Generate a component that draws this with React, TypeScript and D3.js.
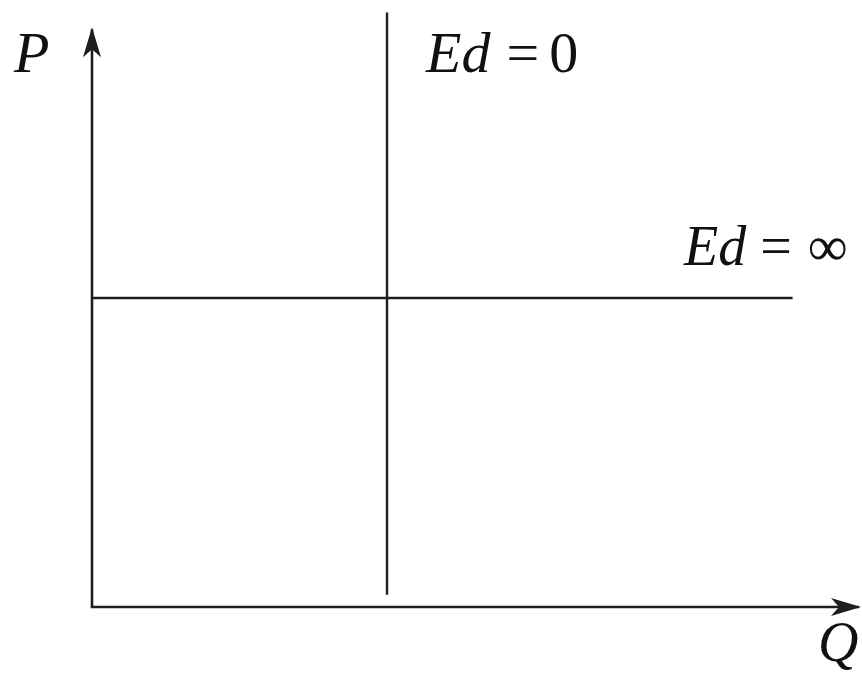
import { useRef, useEffect } from "react";
import * as d3 from "d3";

// axes extents (arbitrary Q / P units)
const qAxis = [0, 10.4];
const pAxis = [0, 9.35];
// perfectly inelastic demand: vertical at Q = 4
const inelasticQ = [4, 4];
const inelasticP = [0.2, 9.62];
// perfectly elastic demand: horizontal at P = 5
const elasticQ = [0, 9.5];
const elasticP = [5, 5];
const axisLabels = ["P", "Q"];

const App = () => {
  const svgRef = useRef<SVGSVGElement>(null);

  useEffect(() => {
    const width = 862;
    const height = 675;
    const svg = d3
      .select(svgRef.current)
      .attr("width", width)
      .attr("height", height)
      .style("background", "#fff")
      .style("position", "absolute")
      .style("left", "0px")
      .style("top", "0px");
    svg.selectAll("*").remove();

    // scaling
    const x = d3.scaleLinear().domain([0, 10]).range([92, 829.5]);
    const y = d3.scaleLinear().domain([0, 5]).range([607, 298]);
    const line = d3
      .line<[number, number]>()
      .x((d) => x(d[0]))
      .y((d) => y(d[1]));
    const ink = "#1e1e1e";

    // axes
    svg
      .append("path")
      .attr("d", line([[0, pAxis[1]], [0, 0], [qAxis[1], 0]]))
      .attr("fill", "none")
      .attr("stroke", ink)
      .attr("stroke-width", 2.6);

    // arrow heads
    const yTipX = x(0);
    const yTipY = y(pAxis[1]) - 2;
    svg
      .append("path")
      .attr(
        "d",
        `M${yTipX},${yTipY} L${yTipX + 9},${yTipY + 30} L${yTipX},${yTipY + 22} L${yTipX - 9},${yTipY + 30} Z`
      )
      .attr("fill", ink);
    const xTipX = x(qAxis[1]) + 2;
    const xTipY = y(0);
    svg
      .append("path")
      .attr(
        "d",
        `M${xTipX},${xTipY} L${xTipX - 30},${xTipY - 9} L${xTipX - 22},${xTipY} L${xTipX - 30},${xTipY + 9} Z`
      )
      .attr("fill", ink);

    // demand curves
    svg
      .append("path")
      .attr("d", line(d3.zip(inelasticQ, inelasticP) as [number, number][]))
      .attr("fill", "none")
      .attr("stroke", ink)
      .attr("stroke-width", 2.4);
    svg
      .append("path")
      .attr("d", line(d3.zip(elasticQ, elasticP) as [number, number][]))
      .attr("fill", "none")
      .attr("stroke", ink)
      .attr("stroke-width", 2.4);

    // labels
    const serif = "Liberation Serif, Times New Roman, Tinos, DejaVu Serif, serif";
    const label = (tx: number, ty: number, size: number) =>
      svg
        .append("text")
        .attr("x", tx)
        .attr("y", ty)
        .attr("font-family", serif)
        .attr("font-size", size)
        .attr("fill", "#111");

    label(14, 72, 58).attr("font-style", "italic").text(axisLabels[0]);
    label(818, 661, 56).attr("font-style", "italic").text(axisLabels[1]);

    const ed0 = label(426, 72, 58);
    ed0.append("tspan").attr("font-style", "italic").text("Ed");
    ed0.append("tspan").attr("dx", 16).text("=");
    ed0.append("tspan").attr("dx", 10).text("0");

    const edInf = label(684, 265, 56);
    edInf.append("tspan").attr("font-style", "italic").text("Ed");
    edInf.append("tspan").attr("dx", 14).text("=");
    edInf.append("tspan").attr("dx", 16).text("∞");
  }, []);

  return <svg ref={svgRef}></svg>;
};

export default App;
